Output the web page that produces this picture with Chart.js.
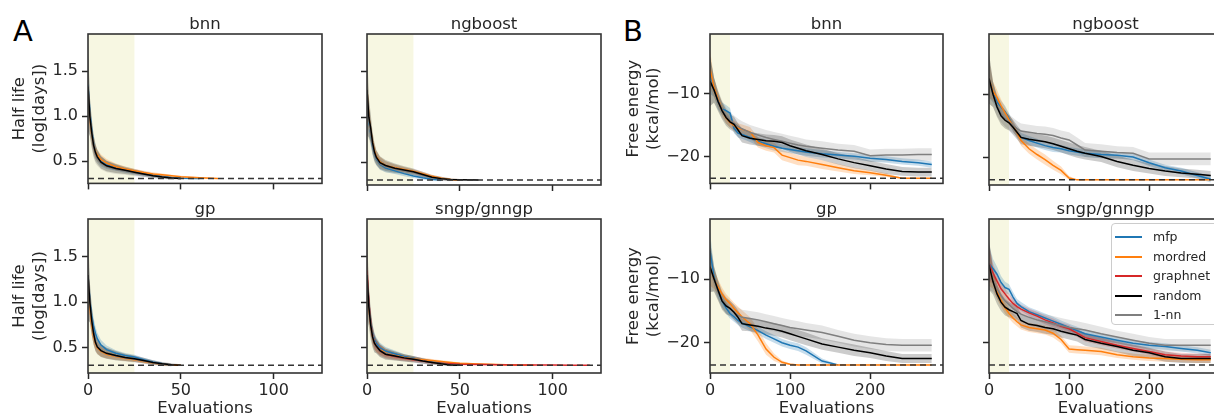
<!DOCTYPE html>
<html>
<head>
<meta charset="utf-8">
<script src="https://cdn.jsdelivr.net/npm/chart.js@4.4.0/dist/chart.umd.min.js"></script>
<style>
  html, body { margin: 0; padding: 0; background: #fff; overflow: hidden; width: 1214px; height: 417px; }
  canvas { position: absolute; }
  .letter { position: absolute; font: 29px "DejaVu Sans"; line-height: 29px; color: #000; }
  #legend { position: absolute; left: 1111px; top: 223px; width: 118px; height: 102px; box-sizing: border-box;
            border: 1px solid #cccccc; border-radius: 4px; background: rgba(255,255,255,0.8); padding-top: 3px;
            font: 12.5px "DejaVu Sans"; color: #262626; z-index: 5; }
  #legend .it { position: relative; height: 19.5px; line-height: 19.5px; padding-left: 41px; }
  #legend .it i { position: absolute; left: 3px; top: 9px; width: 27px; height: 2px; }
</style>
</head>
<body>
<div class="letter" style="left:13px;top:17px">A</div>
<div class="letter" style="left:623px;top:17px">B</div>
<div id="legend">
  <div class="it"><i style="background:#1f77b4"></i>mfp</div>
  <div class="it"><i style="background:#ff7f0e"></i>mordred</div>
  <div class="it"><i style="background:#d62728"></i>graphnet</div>
  <div class="it"><i style="background:#000000"></i>random</div>
  <div class="it"><i style="background:#7f7f7f"></i>1-nn</div>
</div>
<script>
// evaluation grids
const xA = [0, 1, 2, 3, 4, 5, 7, 10, 15, 20, 25, 30, 35, 40, 45, 50, 60, 70, 80, 90, 100, 110, 120];
const xB = [0, 5, 10, 15, 20, 25, 30, 35, 40, 50, 60, 70, 80, 90, 100, 110, 120, 140, 160, 180, 200, 220, 240, 260, 277];

// A: half life, best value so far (mean) and band half-width
const aBnnMfp     = [1.35, 1.05, 0.85, 0.70, 0.61, 0.56, 0.50, 0.46, 0.43, 0.40, 0.38, 0.36, 0.345, 0.33, 0.32, 0.313, 0.31];
const aBnnMordred = [1.30, 0.98, 0.80, 0.68, 0.61, 0.57, 0.52, 0.48, 0.44, 0.415, 0.395, 0.375, 0.36, 0.35, 0.34, 0.33, 0.318, 0.31];
const aBnnRandom  = [1.33, 1.00, 0.82, 0.68, 0.60, 0.55, 0.49, 0.45, 0.42, 0.40, 0.38, 0.36, 0.34, 0.325, 0.315, 0.31];
const aBnnNn      = [1.33, 1.00, 0.80, 0.66, 0.58, 0.53, 0.48, 0.44, 0.41, 0.39, 0.37, 0.355, 0.34, 0.325, 0.315, 0.31];

const aNgbMfp     = [1.30, 0.95, 0.82, 0.68, 0.60, 0.54, 0.48, 0.44, 0.41, 0.38, 0.355, 0.335, 0.318, 0.31];
const aNgbMordred = [1.30, 1.00, 0.85, 0.72, 0.63, 0.57, 0.51, 0.47, 0.445, 0.425, 0.405, 0.38, 0.35, 0.33, 0.315, 0.31];
const aNgbRandom  = [1.30, 1.00, 0.88, 0.72, 0.62, 0.56, 0.50, 0.47, 0.44, 0.42, 0.40, 0.37, 0.34, 0.325, 0.315, 0.312, 0.31];
const aNgbNn      = [1.30, 0.98, 0.84, 0.70, 0.60, 0.55, 0.49, 0.455, 0.43, 0.41, 0.39, 0.36, 0.335, 0.32, 0.31];

const aGpMfp      = [1.30, 1.02, 0.85, 0.74, 0.66, 0.60, 0.53, 0.48, 0.44, 0.415, 0.40, 0.37, 0.345, 0.325, 0.31];
const aGpMordred  = [1.30, 0.95, 0.75, 0.62, 0.55, 0.50, 0.46, 0.43, 0.405, 0.385, 0.37, 0.35, 0.335, 0.32, 0.312, 0.31];
const aGpRandom   = [1.30, 1.00, 0.80, 0.66, 0.56, 0.51, 0.47, 0.44, 0.415, 0.395, 0.38, 0.36, 0.34, 0.325, 0.315, 0.31];
const aGpNn       = [1.30, 1.00, 0.80, 0.66, 0.57, 0.52, 0.47, 0.44, 0.41, 0.39, 0.375, 0.355, 0.335, 0.32, 0.31];

const aSngpMfp      = [1.30, 0.98, 0.78, 0.66, 0.59, 0.55, 0.50, 0.465, 0.435, 0.405, 0.385, 0.365, 0.345, 0.33, 0.315, 0.31];
const aSngpMordred  = [1.30, 0.95, 0.76, 0.63, 0.56, 0.52, 0.48, 0.445, 0.415, 0.395, 0.38, 0.37, 0.36, 0.35, 0.34, 0.33, 0.322, 0.316, 0.313, 0.31];
const aSngpGraphnet = [1.35, 1.00, 0.78, 0.64, 0.56, 0.52, 0.47, 0.43, 0.405, 0.385, 0.37, 0.355, 0.34, 0.33, 0.325, 0.32, 0.316, 0.314, 0.313, 0.312, 0.311, 0.31, 0.31];
const aSngpRandom   = [1.30, 0.95, 0.75, 0.62, 0.55, 0.52, 0.47, 0.43, 0.41, 0.39, 0.375, 0.355, 0.34, 0.325, 0.313, 0.31];
const aSngpNn       = [1.30, 0.98, 0.78, 0.64, 0.56, 0.52, 0.47, 0.44, 0.41, 0.39, 0.375, 0.355, 0.34, 0.325, 0.315, 0.31];

const aSprWide   = [0.50, 0.22, 0.16, 0.12, 0.10, 0.08, 0.07, 0.06, 0.05, 0.04, 0.035, 0.03, 0.025, 0.02, 0.015, 0.01, 0.008, 0.006, 0.005, 0.004, 0.004, 0.003, 0.003];
const aSprNarrow = [0.35, 0.15, 0.11, 0.09, 0.075, 0.065, 0.055, 0.045, 0.035, 0.028, 0.024, 0.02, 0.018, 0.015, 0.012, 0.01, 0.008, 0.006, 0.005, 0.004, 0.004, 0.003, 0.003];

// B: free energy
const bBnnMfp     = [-7.0, -9.0, -11.3, -12.4, -12.7, -13.1, -15.5, -16.3, -16.5, -17.0, -17.6, -18.0, -18.4, -18.7, -18.9, -19.1, -19.3, -19.6, -19.8, -20.0, -20.3, -20.5, -20.8, -21.0, -21.3];
const bBnnMordred = [-6.0, -9.0, -10.8, -12.5, -13.8, -14.6, -15.1, -15.5, -15.7, -16.1, -17.8, -18.3, -18.6, -19.8, -20.2, -20.6, -20.8, -21.3, -21.8, -22.3, -22.6, -23.0, -23.5, -23.5, -23.5];
const bBnnRandom  = [-8.0, -9.4, -11.2, -12.7, -13.8, -14.5, -14.9, -15.8, -16.7, -17.1, -17.3, -17.5, -17.6, -17.8, -18.3, -18.7, -19.1, -19.7, -20.4, -21.0, -21.5, -22.0, -22.4, -22.5, -22.5];
const bBnnNn      = [-8.0, -9.5, -11.0, -12.5, -13.5, -14.2, -14.7, -15.2, -15.6, -16.2, -16.6, -17.0, -17.3, -17.6, -17.9, -18.2, -18.4, -18.7, -19.0, -19.2, -19.9, -19.8, -19.8, -19.7, -19.7];

const bNgbMfp     = [-7.5, -9.8, -11.2, -12.0, -12.7, -13.8, -15.1, -16.1, -16.8, -17.3, -17.7, -18.1, -18.4, -18.6, -18.9, -19.1, -19.3, -19.5, -19.6, -19.9, -20.8, -21.6, -22.1, -22.8, -23.4];
const bNgbMordred = [-7.5, -9.5, -10.5, -11.8, -12.9, -14.0, -15.0, -16.1, -17.3, -18.6, -19.5, -20.3, -21.2, -22.0, -23.2, -23.5, -23.5, -23.5, -23.5, -23.5, -23.5, -23.5, -23.5, -23.5, -23.5];
const bNgbRandom  = [-7.5, -10.0, -12.0, -13.4, -14.1, -14.5, -15.2, -16.0, -16.8, -17.1, -17.3, -17.5, -17.8, -18.2, -18.6, -19.0, -19.3, -19.8, -20.6, -21.2, -21.7, -22.1, -22.4, -22.6, -22.8];
const bNgbNn      = [-7.5, -10.0, -11.8, -13.0, -13.8, -14.4, -14.9, -15.4, -15.8, -16.0, -16.2, -16.3, -16.5, -16.9, -17.2, -18.0, -18.8, -19.0, -19.2, -19.3, -20.2, -20.2, -20.2, -20.2, -20.2];

const bGpMfp      = [-5.5, -9.6, -11.8, -13.4, -14.5, -15.4, -15.9, -16.5, -16.9, -17.5, -18.1, -18.8, -19.4, -20.0, -20.4, -20.7, -21.3, -22.9, -23.5];
const bGpMordred  = [-8.0, -10.0, -11.2, -12.3, -13.2, -13.8, -14.6, -15.3, -15.9, -17.0, -18.8, -21.0, -22.3, -23.1, -23.4, -23.5, -23.5, -23.5, -23.5, -23.5, -23.5, -23.5, -23.5, -23.5, -23.5];
const bGpRandom   = [-8.0, -9.9, -11.7, -13.4, -14.2, -14.6, -15.2, -16.0, -17.0, -17.2, -17.4, -17.7, -17.9, -18.2, -18.6, -19.0, -19.4, -20.2, -20.7, -21.2, -21.6, -22.1, -22.5, -22.5, -22.5];
const bGpNn       = [-8.0, -10.0, -11.8, -13.2, -14.0, -14.6, -15.2, -15.7, -16.0, -16.2, -16.4, -16.7, -17.0, -17.3, -17.6, -17.8, -18.0, -18.4, -19.0, -19.6, -20.0, -20.3, -20.4, -20.4, -20.4];

const bSngpMfp      = [-7.5, -8.3, -9.2, -10.5, -11.3, -11.6, -12.8, -13.8, -14.3, -15.1, -15.6, -16.1, -16.6, -17.1, -17.6, -18.1, -18.6, -19.1, -19.6, -20.1, -20.4, -20.6, -20.9, -21.2, -21.6];
const bSngpMordred  = [-8.0, -10.0, -11.9, -13.3, -14.5, -15.4, -16.1, -16.7, -17.2, -17.6, -17.8, -18.0, -18.5, -19.5, -21.0, -21.1, -21.2, -21.4, -21.9, -22.2, -22.4, -22.5, -22.6, -22.7, -22.7];
const bSngpGraphnet = [-7.5, -9.0, -10.3, -11.5, -12.3, -13.1, -13.8, -14.3, -14.7, -15.3, -15.8, -16.4, -16.9, -17.4, -17.8, -18.5, -19.2, -19.8, -20.4, -20.9, -21.4, -21.9, -22.1, -22.2, -22.2];
const bSngpRandom   = [-7.7, -10.4, -12.3, -13.6, -14.4, -14.8, -15.1, -15.4, -16.5, -17.1, -17.3, -17.6, -17.8, -18.2, -18.5, -18.8, -19.5, -20.1, -20.6, -21.2, -21.6, -22.2, -22.5, -22.5, -22.5];
const bSngpNn       = [-7.7, -10.0, -11.5, -12.6, -13.4, -14.0, -14.6, -15.1, -15.5, -16.0, -16.4, -16.7, -17.0, -17.3, -17.6, -17.8, -18.0, -18.6, -19.1, -19.6, -20.1, -20.4, -20.4, -20.4, -20.4];

const bSprBlack   = [4.0, 2.0, 1.6, 1.4, 1.3, 1.2, 1.2, 1.1, 1.1, 1.0, 1.0, 1.0, 1.0, 1.0, 1.0, 1.0, 1.0, 0.9, 0.9, 0.9, 0.8, 0.8, 0.7, 0.7, 0.7];
const bSprGray    = [4.0, 2.0, 1.6, 1.4, 1.3, 1.2, 1.2, 1.2, 1.2, 1.2, 1.2, 1.2, 1.2, 1.2, 1.2, 1.2, 1.1, 1.1, 1.0, 1.0, 1.0, 1.0, 1.0, 1.0, 1.0];
const bSprColor   = [3.0, 1.5, 1.2, 1.0, 0.9, 0.8, 0.8, 0.7, 0.7, 0.7, 0.7, 0.7, 0.7, 0.6, 0.6, 0.6, 0.6, 0.6, 0.5, 0.5, 0.5, 0.5, 0.5, 0.5, 0.5];
const bSprBnnOr   = [3.0, 1.5, 1.2, 1.0, 0.9, 0.8, 0.8, 0.8, 0.8, 0.8, 0.8, 0.8, 0.8, 0.8, 0.8, 0.8, 0.7, 0.7, 0.6, 0.5, 0.4, 0.3, 0.1, 0.05, 0.05];
const bSprNgbOr   = [3.0, 1.5, 1.2, 1.0, 0.9, 0.8, 0.8, 0.8, 0.8, 0.8, 0.8, 0.8, 0.7, 0.6, 0.3, 0.05, 0.05, 0.05, 0.05, 0.05, 0.05, 0.05, 0.05, 0.05, 0.05];
const bSprGpOr    = [3.0, 1.5, 1.2, 1.0, 0.9, 0.8, 0.9, 1.0, 1.0, 1.0, 1.0, 0.9, 0.6, 0.3, 0.1, 0.05, 0.05, 0.05, 0.05, 0.05, 0.05, 0.05, 0.05, 0.05, 0.05];
const bSprGpMfp   = [3.0, 1.5, 1.2, 1.0, 0.9, 0.8, 0.8, 0.7, 0.7, 0.7, 0.6, 0.6, 0.6, 0.6, 0.6, 0.6, 0.6, 0.4, 0.05];

const COL = { mfp: '#1f77b4', mordred: '#ff7f0e', graphnet: '#d62728', random: '#000000', nn: '#7f7f7f' };
const BAND = { mfp: 'rgba(31,119,180,0.25)', mordred: 'rgba(255,127,14,0.25)', graphnet: 'rgba(214,39,40,0.22)',
               random: 'rgba(0,0,0,0.2)', nn: 'rgba(127,127,127,0.2)' };
const ORDER = { random: 1, nn: 2, graphnet: 3, mordred: 4, mfp: 5 };
const INK = '#262626';

Chart.defaults.font.family = '"DejaVu Sans", sans-serif';
Chart.defaults.font.size = 16;
Chart.defaults.color = INK;

function seriesSets(xs, mean, spr, key) {
  const lo = [], hi = [], mid = [];
  for (let i = 0; i < mean.length; i++) {
    mid.push({ x: xs[i], y: mean[i] });
    lo.push({ x: xs[i], y: mean[i] - spr[i] });
    hi.push({ x: xs[i], y: mean[i] + spr[i] });
  }
  const o = ORDER[key];
  return [
    { data: lo, borderWidth: 0, pointRadius: 0, fill: false, order: 20 + o },
    { data: hi, borderWidth: 0, pointRadius: 0, fill: '-1', backgroundColor: BAND[key], order: 20 + o },
    { data: mid, borderColor: COL[key], borderWidth: 1.5, pointRadius: 0, fill: false, order: o }
  ];
}

// yellow initial-design region, frame and panel title
const panelDeco = {
  id: 'panelDeco',
  beforeDatasetsDraw(chart, args, opts) {
    const { ctx, chartArea: a, scales: { x } } = chart;
    const x0 = x.getPixelForValue(0), x1 = x.getPixelForValue(opts.shadeTo);
    ctx.save();
    ctx.fillStyle = '#f7f7e2';
    ctx.fillRect(x0, a.top, x1 - x0, a.bottom - a.top);
    ctx.restore();
  },
  afterDraw(chart, args, opts) {
    const { ctx, chartArea: a } = chart;
    ctx.save();
    ctx.strokeStyle = '#333333';
    ctx.lineWidth = 1.6;
    ctx.strokeRect(a.left, a.top, a.right - a.left, a.bottom - a.top);
    ctx.fillStyle = INK;
    ctx.font = '16.5px "DejaVu Sans"';
    ctx.textAlign = 'center';
    ctx.textBaseline = 'alphabetic';
    ctx.fillText(opts.text, (a.left + a.right) / 2, a.top - 5);
    ctx.restore();
  }
};

const fmtA = v => v.toFixed(1);
const fmtB = v => (v < 0 ? '\u2212' + Math.abs(v) : String(v));

const panelA = { xmax: 126, xticks: [0, 50, 100], yticks: [0.5, 1.0, 1.5], ymax: 1.914, dash: 0.31, fmt: fmtA,
                 yTitle: ['Half life', '(log[days])'], yTitlePad: 10.3, xs: xA };
const panelB = { xmax: 291, xticks: [0, 100, 200], yticks: [-20, -10], ymax: -0.49, dash: -23.5, fmt: fmtB,
                 yTitle: ['Free energy', '(kcal/mol)'], yTitlePad: 4.1, xs: xB };

const plots = [
  { p: panelA, title: 'bnn', L: 88, T: 34, W: 234, H: 151, padL: 88, padT: 34, padB: 12, ymin: 0.255, left: true, bottom: false,
    series: [['mfp', aBnnMfp, aSprNarrow], ['mordred', aBnnMordred, aSprNarrow], ['random', aBnnRandom, aSprWide], ['nn', aBnnNn, aSprWide]] },
  { p: panelA, title: 'ngboost', L: 367, T: 34, W: 234, H: 151, padL: 20, padT: 34, padB: 12, ymin: 0.255, left: false, bottom: false,
    series: [['mfp', aNgbMfp, aSprNarrow], ['mordred', aNgbMordred, aSprNarrow], ['random', aNgbRandom, aSprWide], ['nn', aNgbNn, aSprWide]] },
  { p: panelA, title: 'gp', L: 88, T: 219, W: 234, H: 154, padL: 88, padT: 30, padB: 48, ymin: 0.224, left: true, bottom: true,
    series: [['mfp', aGpMfp, aSprNarrow], ['mordred', aGpMordred, aSprNarrow], ['random', aGpRandom, aSprWide], ['nn', aGpNn, aSprWide]] },
  { p: panelA, title: 'sngp/gnngp', L: 367, T: 219, W: 234, H: 154, padL: 20, padT: 30, padB: 48, ymin: 0.224, left: false, bottom: true,
    series: [['mfp', aSngpMfp, aSprNarrow], ['mordred', aSngpMordred, aSprNarrow], ['graphnet', aSngpGraphnet, aSprNarrow],
             ['random', aSngpRandom, aSprWide], ['nn', aSngpNn, aSprWide]] },
  { p: panelB, title: 'bnn', L: 710, T: 34, W: 233, H: 151, padL: 90, padT: 34, padB: 12, ymin: -24.31, left: true, bottom: false,
    series: [['mfp', bBnnMfp, bSprColor], ['mordred', bBnnMordred, bSprBnnOr], ['random', bBnnRandom, bSprBlack], ['nn', bBnnNn, bSprGray]] },
  { p: panelB, title: 'ngboost', L: 989, T: 34, W: 233, H: 151, padL: 20, padT: 34, padB: 12, ymin: -24.31, left: false, bottom: false,
    series: [['mfp', bNgbMfp, bSprColor], ['mordred', bNgbMordred, bSprNgbOr], ['random', bNgbRandom, bSprBlack], ['nn', bNgbNn, bSprGray]] },
  { p: panelB, title: 'gp', L: 710, T: 219, W: 233, H: 154, padL: 90, padT: 30, padB: 48, ymin: -24.78, left: true, bottom: true,
    series: [['mfp', bGpMfp, bSprGpMfp], ['mordred', bGpMordred, bSprGpOr], ['random', bGpRandom, bSprBlack], ['nn', bGpNn, bSprGray]] },
  { p: panelB, title: 'sngp/gnngp', L: 989, T: 219, W: 233, H: 154, padL: 20, padT: 30, padB: 48, ymin: -24.78, left: false, bottom: true,
    series: [['mfp', bSngpMfp, bSprColor], ['mordred', bSngpMordred, bSprColor], ['graphnet', bSngpGraphnet, bSprColor],
             ['random', bSngpRandom, bSprBlack], ['nn', bSngpNn, bSprGray]] }
];

plots.forEach((pl) => {
  const p = pl.p;
  const padR = 12;
  const cv = document.createElement('canvas');
  const w = pl.padL + pl.W + padR, h = pl.padT + pl.H + pl.padB;
  cv.width = w; cv.height = h;
  cv.style.left = (pl.L - pl.padL) + 'px';
  cv.style.top = (pl.T - pl.padT) + 'px';
  cv.style.width = w + 'px'; cv.style.height = h + 'px';
  document.body.appendChild(cv);

  const datasets = [];
  pl.series.forEach(([key, mean, spr]) => datasets.push(...seriesSets(p.xs, mean, spr, key)));
  datasets.push({ data: [{ x: 0, y: p.dash }, { x: p.xmax, y: p.dash }], borderColor: '#333333', borderWidth: 1.5,
                  borderDash: [6, 4], pointRadius: 0, fill: false, order: 0 });

  new Chart(cv, {
    type: 'line',
    data: { datasets },
    plugins: [panelDeco],
    options: {
      responsive: false,
      animation: false,
      devicePixelRatio: 1,
      layout: { padding: { left: 0, top: pl.padT, right: padR, bottom: 0 } },
      plugins: { legend: { display: false }, tooltip: { enabled: false }, panelDeco: { text: pl.title, shadeTo: 25 } },
      scales: {
        x: {
          type: 'linear', min: 0, max: p.xmax,
          afterBuildTicks: (s) => { s.ticks = p.xticks.map(v => ({ value: v })); },
          afterFit: (s) => { s.height = pl.padB; },
          grid: { drawOnChartArea: false, tickLength: 6, tickWidth: 1.5, tickColor: INK },
          border: { display: false },
          ticks: { display: pl.bottom, padding: 2, color: INK, maxRotation: 0, font: { size: 16 } },
          title: { display: pl.bottom, text: 'Evaluations', color: INK, font: { size: 16.5, lineHeight: 1.2 },
                   padding: { top: 0, bottom: 2.8 } }
        },
        y: {
          type: 'linear', min: pl.ymin, max: p.ymax,
          afterBuildTicks: (s) => { s.ticks = p.yticks.map(v => ({ value: v })); },
          afterFit: (s) => { s.width = pl.padL; },
          grid: { drawOnChartArea: false, tickLength: 6, tickWidth: 1.5, tickColor: INK },
          border: { display: false },
          ticks: { display: pl.left, padding: 4, color: INK, callback: (v) => p.fmt(v), font: { size: 16 } },
          title: { display: pl.left, text: p.yTitle, color: INK, font: { size: 16.5, lineHeight: 1.2 },
                   padding: { top: p.yTitlePad, bottom: 0 } }
        }
      }
    }
  });
});
</script>
</body>
</html>
